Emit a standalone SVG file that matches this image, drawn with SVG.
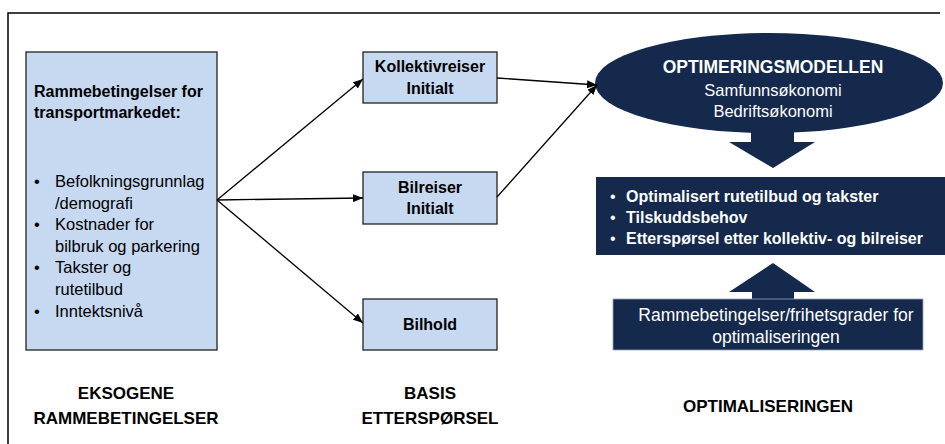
<svg xmlns="http://www.w3.org/2000/svg" width="945" height="444" viewBox="0 0 945 444">
  <defs>
    <marker id="arrow" viewBox="0 0 10 8" refX="10" refY="4" markerWidth="10" markerHeight="8" markerUnits="userSpaceOnUse" orient="auto">
      <path d="M0,0 L10,4 L0,8 z" fill="#000"/>
    </marker>
    <style>
      text { font-family: "Liberation Sans", Arial, sans-serif; }
      .box { fill: #C6D9F1; stroke: #222; stroke-width: 1.3; }
      .dark { fill: #14294B; }
      .darkbox { fill: #14294B; stroke: #9AA6B8; stroke-width: 0.8; }
      .conn { stroke: #000; stroke-width: 1.3; fill: none; marker-end: url(#arrow); }
      .b { font-weight: bold; }
      .t { font-size: 16px; fill: #000; }
      .w { font-size: 16px; fill: #fff; }
      .mid { text-anchor: middle; }
      .li { font-size: 16.5px; }
      .cap { font-size: 17px; }
    </style>
  </defs>

  <rect width="945" height="444" fill="#fff"/>

  <!-- outer frame (top and left edges) -->
  <path d="M8,444 V13 H940" fill="none" stroke="#000" stroke-width="1.5"/>

  <!-- exogenous conditions -->
  <g id="rammebetingelser">
    <rect class="box" x="26" y="52" width="191" height="298"/>
    <text class="t b" x="34" y="97">Rammebetingelser for</text>
    <text class="t b" x="34" y="118">transportmarkedet:</text>
    <text class="t li" x="34" y="187">•</text>
    <text class="t li" x="55" y="187">Befolkningsgrunnlag</text>
    <text class="t li" x="55" y="209">/demografi</text>
    <text class="t li" x="34" y="230">•</text>
    <text class="t li" x="55" y="230">Kostnader for</text>
    <text class="t li" x="55" y="252">bilbruk og parkering</text>
    <text class="t li" x="34" y="273">•</text>
    <text class="t li" x="55" y="273">Takster og</text>
    <text class="t li" x="55" y="295">rutetilbud</text>
    <text class="t li" x="34" y="317">•</text>
    <text class="t li" x="55" y="317">Inntektsnivå</text>
  </g>

  <!-- base demand -->
  <g id="kollektivreiser">
    <rect class="box" x="363" y="52" width="134" height="51"/>
    <text class="t b mid" x="430" y="72">Kollektivreiser</text>
    <text class="t b mid" x="430" y="94">Initialt</text>
  </g>
  <g id="bilreiser">
    <rect class="box" x="363" y="172" width="134" height="52"/>
    <text class="t b mid" x="430" y="193">Bilreiser</text>
    <text class="t b mid" x="430" y="214">Initialt</text>
  </g>
  <g id="bilhold">
    <rect class="box" x="363" y="299" width="134" height="51"/>
    <text class="t b mid" x="430" y="330">Bilhold</text>
  </g>

  <!-- optimisation model -->
  <g id="modell">
    <path class="dark" d="M751,120 H794 V142 H815 L773,168 L729,142 H751 Z"/>
    <ellipse class="dark" cx="769" cy="83" rx="174" ry="50"/>
    <text class="w b mid" x="773" y="73" style="font-size:17.5px">OPTIMERINGSMODELLEN</text>
    <text class="w mid li" x="773" y="96">Samfunnsøkonomi</text>
    <text class="w mid li" x="773" y="117">Bedriftsøkonomi</text>
  </g>

  <g id="resultat">
    <rect class="dark" x="596" y="177" width="349" height="78"/>
    <text class="w" x="610" y="202">•</text>
    <text class="w b" x="626" y="202">Optimalisert rutetilbud og takster</text>
    <text class="w" x="610" y="223">•</text>
    <text class="w b" x="626" y="223">Tilskuddsbehov</text>
    <text class="w" x="610" y="244">•</text>
    <text class="w b" x="626" y="244">Etterspørsel etter kollektiv- og bilreiser</text>
  </g>

  <g id="frihetsgrader">
    <path class="dark" d="M773,263 L815,292 H794 V300 H752 V292 H729 Z"/>
    <rect class="darkbox" x="613" y="299" width="310" height="51"/>
    <text class="w mid" x="776" y="321" style="font-size:17.5px">Rammebetingelser/frihetsgrader for</text>
    <text class="w mid" x="776" y="343" style="font-size:17.5px">optimaliseringen</text>
  </g>

  <!-- column captions -->
  <g id="captions">
    <text class="t b mid cap" x="126" y="399">EKSOGENE</text>
    <text class="t b mid cap" x="126" y="424">RAMMEBETINGELSER</text>
    <text class="t b mid cap" x="430" y="399">BASIS</text>
    <text class="t b mid cap" x="430" y="424">ETTERSPØRSEL</text>
    <text class="t b mid cap" x="768" y="412">OPTIMALISERINGEN</text>
  </g>

  <!-- connectors -->
  <g id="connectors">
    <line class="conn" x1="217" y1="200" x2="363" y2="79"/>
    <line class="conn" x1="217" y1="200" x2="363" y2="198"/>
    <line class="conn" x1="217" y1="200" x2="363" y2="323"/>
    <line class="conn" x1="497" y1="78" x2="597" y2="85"/>
    <line class="conn" x1="497" y1="197" x2="597" y2="85"/>
  </g>
</svg>
